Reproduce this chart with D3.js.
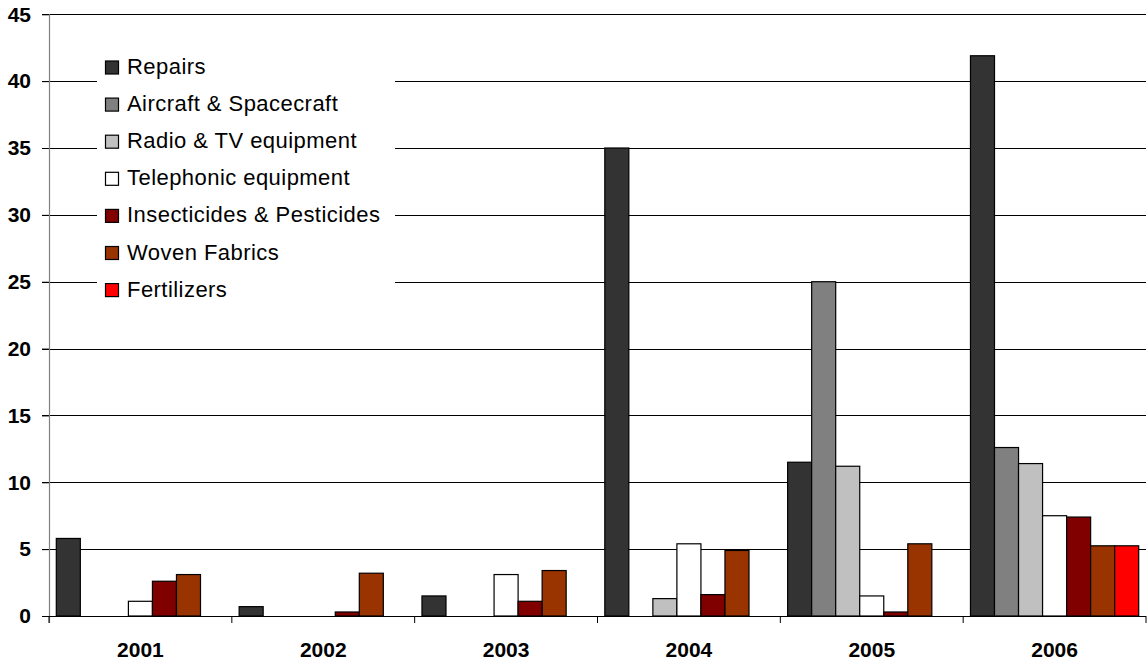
<!DOCTYPE html>
<html>
<head>
<meta charset="utf-8">
<script src="https://cdn.jsdelivr.net/npm/d3@7"></script>
<style>
  html, body { margin: 0; padding: 0; background: #fff; }
  svg { display: block; font-family: "Liberation Sans", Arial, sans-serif; }
</style>
</head>
<body>
<svg id="chart" width="1147" height="659"></svg>
<script>
// ---- data ----
const years = ["2001", "2002", "2003", "2004", "2005", "2006"];
const seriesNames = ["Repairs", "Aircraft & Spacecraft", "Radio & TV equipment", "Telephonic equipment", "Insecticides & Pesticides", "Woven Fabrics", "Fertilizers"];
const repairs       = [5.8, 0.7, 1.5, 35.0, 11.5, 41.9];
const aircraft      = [null, null, null, null, 25.0, 12.6];
const radioTv       = [null, null, null, 1.3, 11.2, 11.4];
const telephonic    = [1.1, null, 3.1, 5.4, 1.5, 7.5];
const insecticides  = [2.6, 0.3, 1.1, 1.6, 0.3, 7.4];
const wovenFabrics  = [3.1, 3.2, 3.4, 4.9, 5.4, 5.25];
const fertilizers   = [null, null, null, null, null, 5.25];
const seriesValues = [repairs, aircraft, radioTv, telephonic, insecticides, wovenFabrics, fertilizers];
const seriesColors = ["#333333", "#808080", "#c0c0c0", "#ffffff", "#800000", "#993300", "#ff0000"];
const yTicks = [0, 5, 10, 15, 20, 25, 30, 35, 40, 45];

// ---- layout ----
const svg = d3.select("#chart");
const plotLeft = 49, plotRight = 1146, plotTop = 14.3, plotBottom = 616;

const x0 = d3.scaleBand().domain(years).range([plotLeft, plotRight]).padding(0);
const x1 = d3.scaleBand().domain(seriesNames).range([7.3, x0.bandwidth() - 7.3]).padding(0);
const y = d3.scaleLinear().domain([0, 45]).range([plotBottom, plotTop]);
const color = d3.scaleOrdinal().domain(seriesNames).range(seriesColors);

// gridlines
svg.append("g")
  .selectAll("line")
  .data(yTicks.filter(d => d > 0))
  .join("line")
  .attr("x1", plotLeft - 7).attr("x2", plotRight)
  .attr("y1", d => Math.round(y(d)) + 0.5).attr("y2", d => Math.round(y(d)) + 0.5)
  .attr("stroke", "#000").attr("stroke-width", 1);

// y axis
const yAxis = d3.axisLeft(y).tickValues(yTicks).tickSize(7).tickPadding(11).tickFormat(d3.format("d"));
const gy = svg.append("g").attr("transform", `translate(${plotLeft},0)`).call(yAxis);
gy.select(".domain").remove();
gy.selectAll(".tick line").attr("stroke", "#000");
gy.selectAll(".tick text")
  .attr("font-size", 21).attr("font-weight", "bold").attr("fill", "#000")
  .attr("font-family", "'Liberation Sans', Arial, sans-serif");
svg.append("line")
  .attr("x1", plotLeft + 0.5).attr("x2", plotLeft + 0.5)
  .attr("y1", plotTop).attr("y2", plotBottom + 7)
  .attr("stroke", "#808080").attr("stroke-width", 1.2);

// bars
const rows = [];
years.forEach((yr, i) => {
  seriesNames.forEach((s, j) => {
    const v = seriesValues[j][i];
    if (v !== null && v !== undefined) rows.push({ year: yr, series: s, value: v });
  });
});
svg.append("g")
  .selectAll("rect")
  .data(rows)
  .join("rect")
  .attr("x", d => x0(d.year) + x1(d.series))
  .attr("y", d => y(d.value))
  .attr("width", x1.bandwidth())
  .attr("height", d => y(0) - y(d.value))
  .attr("fill", d => color(d.series))
  .attr("stroke", "#000")
  .attr("stroke-width", 1.2);

// x axis
const gx = svg.append("g").attr("transform", `translate(0,${plotBottom})`);
gx.append("line").attr("x1", plotLeft).attr("x2", plotRight).attr("y1", 0.5).attr("y2", 0.5)
  .attr("stroke", "#000").attr("stroke-width", 1.2);
gx.selectAll(".cat-tick")
  .data(years.map(yr => x0(yr)).concat([plotRight]))
  .join("line")
  .attr("class", "cat-tick")
  .attr("x1", d => d).attr("x2", d => d)
  .attr("y1", 0).attr("y2", 7)
  .attr("stroke", "#000").attr("stroke-width", 1);
gx.selectAll(".cat-label")
  .data(years)
  .join("text")
  .attr("class", "cat-label")
  .attr("x", d => x0(d) + x0.bandwidth() / 2)
  .attr("y", 40.5)
  .attr("text-anchor", "middle")
  .attr("font-size", 21).attr("font-weight", "bold")
  .text(d => d);

// legend
const lg = svg.append("g");
lg.append("rect").attr("x", 97).attr("y", 42).attr("width", 298).attr("height", 266).attr("fill", "#fff");
const rowY = i => 67.5 + i * 37.1;
const items = lg.selectAll(".item").data(seriesNames).join("g").attr("class", "item");
items.append("rect")
  .attr("x", 105.5).attr("y", (d, i) => rowY(i) - 6.5)
  .attr("width", 13).attr("height", 13)
  .attr("fill", d => color(d)).attr("stroke", "#000").attr("stroke-width", 1.2);
items.append("text")
  .attr("x", 127).attr("y", (d, i) => rowY(i) + 6.5)
  .attr("font-size", 22)
  .attr("letter-spacing", 0.45)
  .attr("fill", "#000")
  .text(d => d);
</script>
</body>
</html>
